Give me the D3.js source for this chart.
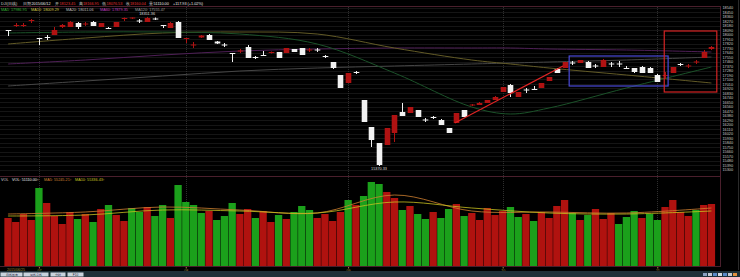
<!DOCTYPE html>
<html>
<head>
<meta charset="utf-8">
<script src="https://cdn.jsdelivr.net/npm/d3@7"></script>
<style>
  html, body { margin: 0; padding: 0; background: #000; }
  svg { display: block; font-family: "Liberation Sans", "DejaVu Sans", sans-serif; }
</style>
</head>
<body>
<svg id="chart" width="740" height="277"></svg>
<script>
// ---- daily candles (index 0..91) ----
const opens = [18090,18170,18170,18270,17930,17950,17990,18150,18150,18230,
  18200,18250,18150,18130,18150,18310,18320,18280,18250,18320,
  18190,18130,18250,17910,17780,17940,17990,17860,17800,17630,
  17660,17750,17550,17590,17630,17650,17630,17710,17730,17680,
  17700,17570,17450,17190,17030,17250,16690,16150,15830,15790,
  16030,16450,16430,16490,16300,16350,16290,16130,16230,16490,
  16580,16590,16630,16690,16850,16990,16750,16900,16910,16930,
  17070,17310,17330,17440,17430,17450,17380,17350,17420,17420,
  17330,17330,17350,17330,17190,17170,17230,17410,17360,17440,
  17530,17710]
const highs = [18090,18230,18230,18310,17930,17990,18150,18210,18270,18250,
  18250,18270,18230,18150,18250,18340,18340,18310,18351.36,18340,
  18190,18250,18270,17930,17850,17990,18010,17870,17830,17630,
  17710,17790,17570,17670,17660,17650,17730,17710,17730,17730,
  17730,17590,17450,17190,17230,17270,16690,16150,15830,16130,
  16390,16630,16550,16490,16330,16370,16310,16130,16430,16490,
  16610,16650,16690,16770,16950,17010,16850,16930,16970,17030,
  17150,17330,17450,17470,17490,17470,17410,17510,17450,17470,
  17370,17330,17370,17350,17210,17250,17350,17430,17410,17490,
  17690,17770]
const lows = [17970,18150,18150,18230,17790,17890,17990,18130,18150,18110,
  18170,18170,18150,18110,18150,18270,18310,18230,18250,18290,
  18130,18130,17930,17830,17730,17930,17890,17810,17750,17450,
  17630,17530,17510,17570,17620,17530,17630,17650,17590,17650,
  17650,17530,17310,16930,17030,17210,16250,15750,15370.33,15790,
  15850,16370,16430,16350,16250,16310,16190,16030,16230,16350,
  16570,16590,16630,16690,16850,16750,16750,16830,16890,16930,
  17070,17230,17330,17390,17430,17330,17330,17350,17350,17350,
  17310,17230,17230,17230,17050,17110,17230,17370,17330,17410,
  17530,17690]
const closes = [18070,18190,18190,18290,17910,17930,18090,18190,18250,18150,
  18220,18170,18230,18110,18250,18330,18340,18260,18330,18310,
  18170,18230,17930,17930,17800,17980,17890,17820,17780,17610,
  17680,17530,17530,17570,17650,17530,17730,17650,17590,17700,
  17680,17550,17330,16930,17230,17230,16250,15890,15390,16130,
  16390,16370,16550,16350,16280,16330,16190,16030,16430,16350,
  16600,16630,16690,16750,16950,16830,16850,16880,16890,17030,
  17150,17230,17450,17420,17490,17330,17360,17490,17400,17400,
  17310,17250,17230,17230,17050,17190,17350,17390,17380,17460,
  17650,17750]

// ---- volume ----
const volumes = [48000,44000,52000,46000,78000,63000,50000,42000,54000,47000,
  52000,44000,57000,61000,51000,45000,58000,54000,59000,50000,
  61000,48000,81000,64000,61000,53000,55000,46000,50000,63000,
  52000,57000,48000,55000,44000,51000,47000,54000,60000,56000,
  48000,52000,45000,54000,66000,61000,70000,84000,82000,74000,
  68000,56000,60000,52000,47000,54000,48000,57000,62000,50000,
  53000,46000,58000,51000,55000,59000,49000,52000,45000,54000,
  48000,60000,66000,53000,46000,51000,57000,47000,53000,42000,
  49000,55000,48000,52000,46000,59000,66000,54000,50000,56000,
  61000,62000]
const volDirs = "rrrrgrrrrg" + "rgrgrrggrg" + "grggggrggg" + "rrgrrgrggg" + "rrrrgrgggr" +
  "rgrggrggrg" + "rrrrrggrgr" + "rrrgrgrrrg" + "ggrggrrrrg" + "rr"

// ---- moving averages (read at sample candles) ----
const maIdx = [0, 10, 20, 30, 40, 50, 60, 65, 70, 80, 91]
const maGreen  = [18030,18050,18050,18010,17810,17230,16550,16410,16530,16930,17350]
const maOlive  = [17810,17930,18030,18050,18010,17730,17490,17410,17330,17190,17030]
const maPurple = [17410,17490,17590,17670,17710,17730,17730,17730,17710,17690,17650]
const maGray   = [16970,17070,17170,17270,17330,17370,17410,17430,17450,17490,17550]

const volMaIdx = [0, 10, 20, 30, 40, 50, 60, 70, 80, 91]
const volMa5  = [52000,54000,59000,56000,53000,71000,55000,54000,53000,58000]
const volMa10 = [50000,51000,56000,55000,53000,64000,58000,53000,52000,55000]

// ---- annotations ----
const trendIdx = [57.8, 71.8]
const trendVal = [16230, 17370]
const blueBoxIdx = [72.6, 85.4]
const blueBoxVal = [17570, 16970]
const redBoxIdx = [84.9, 91.7]
const redBoxVal = [18070, 16850]

// ---- axis labels ----
const monthIdx = [4, 23, 44, 64, 84]
const monthLabels = ["07", "08", "09", "10", "11"]
const firstDate = "2015/06/25"
const priceTicks = d3.range(15300, 18570, 90)

const svg = d3.select("#chart")
const n = closes.length
const step = 7.73
const x = d3.scaleLinear().domain([-0.5, n - 0.5]).range([4.1, 4.1 + n * step])
const y = d3.scaleLinear().domain([15250, 18570]).range([172, 6])
const yv = d3.scaleLinear().domain([0, 88000]).range([266, 178])

const RED = "#b01212", WHITE = "#f2f2f2", VRED = "#b0120f", VGREEN = "#1ba01b"
const FRAME = "#4a1f2c"

// grid
svg.append("g").selectAll("line").data(priceTicks).enter().append("line")
  .attr("x1", 0).attr("x2", 720)
  .attr("y1", d => Math.round(y(d)) + 0.5).attr("y2", d => Math.round(y(d)) + 0.5)
  .attr("stroke", "#151515")
svg.append("g").selectAll("line").data(monthIdx).enter().append("line")
  .attr("x1", d => Math.round(x(d)) + 0.5).attr("x2", d => Math.round(x(d)) + 0.5)
  .attr("y1", 7).attr("y2", 266)
  .attr("stroke", "#2e2e2e").attr("stroke-dasharray", "1,1")

// frame
const frame = svg.append("g").attr("stroke", FRAME).attr("fill", "none")
frame.append("line").attr("x1", 0).attr("x2", 720.5).attr("y1", 6.5).attr("y2", 6.5)
frame.append("line").attr("x1", 0).attr("x2", 720.5).attr("y1", 176.5).attr("y2", 176.5)
frame.append("line").attr("x1", 0).attr("x2", 720.5).attr("y1", 266.5).attr("y2", 266.5)
frame.append("line").attr("x1", 720.5).attr("x2", 720.5).attr("y1", 6).attr("y2", 267)
svg.append("line").attr("x1", 738.5).attr("x2", 738.5).attr("y1", 0).attr("y2", 270).attr("stroke", "#2a2a2a")

// moving average lines
const maLine = d3.line().x(d => x(d[0])).y(d => y(d[1])).curve(d3.curveCatmullRom)
const maSets = [[maGray, "#464646"], [maPurple, "#4e1f56"], [maOlive, "#625a26"], [maGreen, "#1b5229"]]
maSets.forEach(([vals, col]) => {
  svg.append("path").datum(maIdx.map((k, i) => [k, vals[i]]))
    .attr("d", maLine).attr("fill", "none").attr("stroke", col).attr("stroke-width", 1)
})

// candles
const candles = d3.range(n).map(i => ({ i, o: opens[i], h: highs[i], l: lows[i], c: closes[i] }))
const cg = svg.append("g").selectAll("g").data(candles).enter().append("g")
cg.append("line")
  .attr("x1", d => Math.round(x(d.i)) + 0.5).attr("x2", d => Math.round(x(d.i)) + 0.5)
  .attr("y1", d => y(d.h)).attr("y2", d => y(d.l))
  .attr("stroke", d => d.c >= d.o ? RED : WHITE)
cg.append("rect")
  .attr("x", d => Math.round(x(d.i)) - 2.3).attr("width", 5.6)
  .attr("y", d => y(Math.max(d.o, d.c)))
  .attr("height", d => Math.max(1, Math.abs(y(d.o) - y(d.c))))
  .attr("fill", d => d.c >= d.o ? RED : WHITE)

// extreme labels
const hiI = d3.maxIndex(highs), loI = d3.minIndex(lows)
svg.append("text").attr("x", x(hiI)).attr("y", y(highs[hiI]) - 1.5)
  .attr("text-anchor", "middle").attr("font-size", 3.8).attr("fill", "#ddd")
  .text(highs[hiI].toFixed(2))
svg.append("text").attr("x", x(loI)).attr("y", y(lows[loI]) + 4)
  .attr("text-anchor", "middle").attr("font-size", 3.8).attr("fill", "#ddd")
  .text(lows[loI].toFixed(2))

// annotations
svg.append("line")
  .attr("x1", x(trendIdx[0])).attr("y1", y(trendVal[0]))
  .attr("x2", x(trendIdx[1])).attr("y2", y(trendVal[1]))
  .attr("stroke", "#e02424").attr("stroke-width", 1.2)
svg.append("rect")
  .attr("x", x(blueBoxIdx[0])).attr("y", y(blueBoxVal[0]))
  .attr("width", x(blueBoxIdx[1]) - x(blueBoxIdx[0]))
  .attr("height", y(blueBoxVal[1]) - y(blueBoxVal[0]))
  .attr("fill", "none").attr("stroke", "#4a4ad8").attr("stroke-width", 1.2)
svg.append("rect")
  .attr("x", x(redBoxIdx[0])).attr("y", y(redBoxVal[0]))
  .attr("width", x(redBoxIdx[1]) - x(redBoxIdx[0]))
  .attr("height", y(redBoxVal[1]) - y(redBoxVal[0]))
  .attr("fill", "none").attr("stroke", "#d42424").attr("stroke-width", 1.2)

// right price axis
const ya = svg.append("g").attr("transform", "translate(721,0)")
  .call(d3.axisRight(y).tickValues(priceTicks).tickSize(0).tickPadding(1.5).tickFormat(d3.format("d")))
ya.select(".domain").remove()
ya.selectAll("text").attr("font-size", 3.8).attr("fill", "#c8c8c8").attr("font-family", "Liberation Sans")

// volume bars
svg.append("g").selectAll("rect").data(volumes).enter().append("rect")
  .attr("x", (d, i) => x(i) - 3.6).attr("width", 7.3)
  .attr("y", d => yv(d)).attr("height", d => yv(0) - yv(d))
  .attr("fill", (d, i) => volDirs[i] === "r" ? VRED : VGREEN)
const vLine = d3.line().x(d => x(d[0])).y(d => yv(d[1])).curve(d3.curveCatmullRom)
;[[volMa5, "#d08030"], [volMa10, "#c8c020"]].forEach(([vals, col]) => {
  svg.append("path").datum(volMaIdx.map((k, i) => [k, vals[i]]))
    .attr("d", vLine).attr("fill", "none").attr("stroke", col).attr("stroke-width", 0.8)
})

// time axis
const xa = svg.append("g").attr("transform", "translate(0,267)")
  .call(d3.axisBottom(x).tickValues(monthIdx).tickSize(1.5).tickPadding(0.5).tickFormat((d, i) => monthLabels[i]))
xa.select(".domain").remove()
xa.selectAll("line").attr("stroke", "#a08c3c")
xa.selectAll("text").attr("font-size", 3.6).attr("fill", "#a08c3c").attr("font-family", "Liberation Sans")
svg.append("text").attr("x", 7).attr("y", 270.5).attr("font-size", 3.6).attr("fill", "#a08c3c").text(firstDate)

// header texts
function textRow(yPos, size, items) {
  items.forEach(([tx, xPos, col]) => {
    svg.append("text").attr("x", xPos).attr("y", yPos).attr("font-size", size).attr("fill", col).text(tx)
  })
}
textRow(5, 3.8, [["DJI(日线)", 1, "#cfcfcf"], ["日期", 23, "#cfcfcf"], ["2015/06/12", 31.5, "#e8e8e8"],
  ["开", 55, "#cfcfcf"], ["18123.45", 59.5, "#e03030"], ["高", 78.5, "#cfcfcf"], ["18166.95", 83, "#e03030"],
  ["低", 102, "#cfcfcf"], ["18076.53", 106.5, "#e03030"], ["收", 125.5, "#cfcfcf"], ["18160.04", 130, "#e03030"],
  ["量", 149, "#cfcfcf"], ["51110.00", 153.5, "#e8e8e8"], ["+117.93 (+1.02%)", 173, "#e8e8e8"]])
textRow(11, 3.8, [["MA5: 17986.95", 1, "#36b436"], ["MA10: 18009.29", 31, "#d4c84a"],
  ["MA20: 18011.06", 66, "#bdbdbd"], ["MA60: 17879.35", 100, "#c040c0"], ["MA120: 17555.47", 135, "#9a9a9a"]])
textRow(181, 3.8, [["VOL", 1, "#cfcfcf"], ["VOL: 51110.00↑", 12, "#e8e8e8"],
  ["MA5: 55245.21↑", 44, "#d08030"], ["MA10: 55336.43↑", 75, "#c8c020"]])

// status strip
svg.append("rect").attr("x", 0).attr("y", 271).attr("width", 740).attr("height", 6).attr("fill", "#1e3038")
const tabs = [[0, 22, "日线图表"], [23, 25, "周线 月线"], [50, 15, "分时"], [67, 16, "F10"]]
tabs.forEach(([tx, tw, label]) => {
  svg.append("rect").attr("x", tx + 0.5).attr("y", 272.5).attr("width", tw).attr("height", 4).attr("fill", "#c8d2dc")
  svg.append("text").attr("x", tx + tw / 2 + 0.5).attr("y", 275.8).attr("text-anchor", "middle")
    .attr("font-size", 3.2).attr("fill", "#223").text(label)
})
const icons = ["#8aa0c0", "#c0c8d0", "#5a8ac8", "#d0d8e0", "#5a8ac8", "#c0c8d0", "#e09040"]
icons.forEach((col, k) => {
  svg.append("rect").attr("x", 703 + k * 5).attr("y", 273).attr("width", 4).attr("height", 3).attr("fill", col)
})
</script>
</body>
</html>
